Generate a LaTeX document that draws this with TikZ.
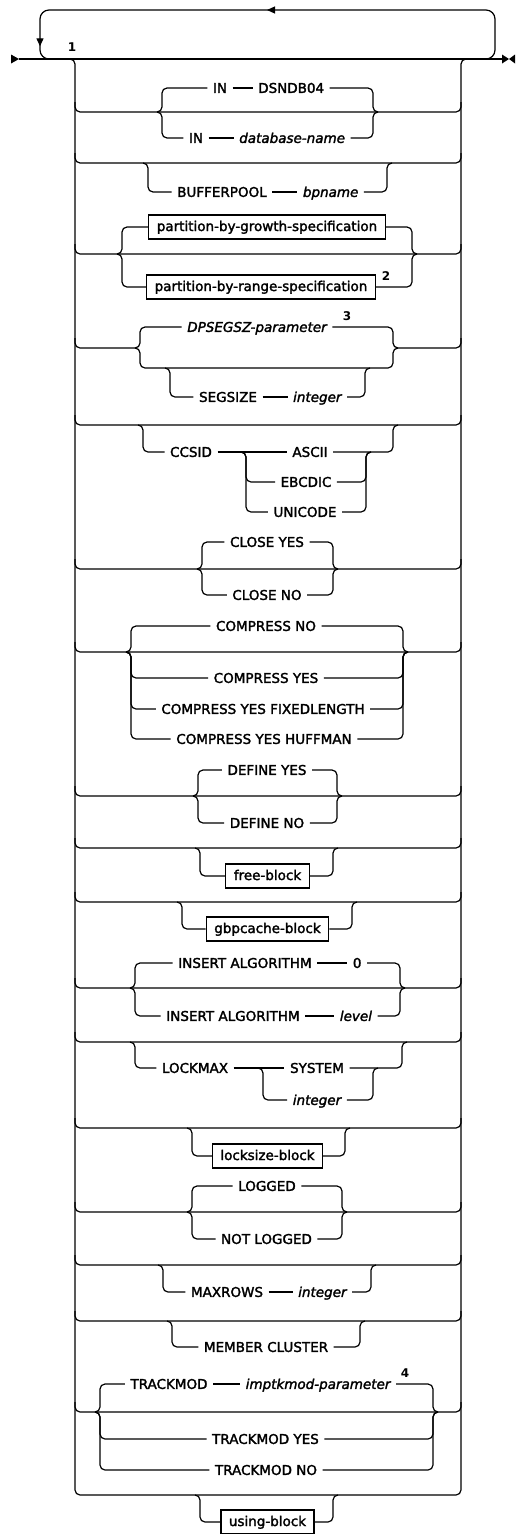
\documentclass[tikz,border=0pt]{standalone}
\usepackage{fontspec}
\setmainfont{DejaVu Sans}
\newfontfamily\railfont{DejaVu Sans}[FakeBold=2]
\usetikzlibrary{positioning}
\usetikzlibrary{arrows.meta}
\usetikzlibrary{decorations.markings}

% optional path hanging off a rail: first node, last node, left x, right x, rail y
\newcommand{\railopt}[5]{%
  \draw[rail] (#3-5,#5) -- (#3,#5) |- (#1);
  \draw[rail] (#2) -| (#4,#5) -- (#4+5,#5);}

\begin{document}
\begin{tikzpicture}[x=1pt,y=-1pt,line width=1.2pt,
    rail/.style={rounded corners=5pt},
    kw/.style={inner xsep=5pt,inner ysep=0pt,text height=9.8pt,text depth=0pt,font=\railfont\fontsize{13.5}{16}\selectfont},
    var/.style={kw,font=\railfont\fontsize{13.5}{16}\selectfont\itshape},
    blk/.style={draw,inner xsep=8pt,inner ysep=5pt,text height=11pt,text depth=3pt,font=\railfont\fontsize{13.5}{16}\selectfont},
    fn/.style={inner sep=0pt,font=\fontsize{12}{12}\selectfont\bfseries},
    decoration={markings,
    mark=at position 0.5 with {\arrow{Triangle[length=8pt,width=7pt]}},
    mark=at position 0.95 with {\arrow{Triangle[length=8pt,width=7pt]}}},
    ]
\useasboundingbox (0,0) rectangle (515,1534);

% main line, repeat loop
\coordinate (start) at (19,59);
\coordinate (stop) at (505,59);
\draw (start) -- (stop);
\fill (11,54.5) -- (start) -- (11,63.5) -- cycle;
\fill (502,54.5) -- (509,59) -- (502,63.5) -- cycle;
\fill (515,54.5) -- (509,59) -- (515,63.5) -- cycle;
\draw[rail,rounded corners=9pt,postaction={decorate}] (476,59) -- (495,59) -- (495,10) -- (40,10) -- (40,59) -- (60,59);
\node[fn] (fn1) at (72,47) {1};

% stack of choices
\draw[rail] (62,59) -- (75,59) -- (75,1495) -- (461,1495) -- (461,59) -- (474,59);
\foreach \y in {112,163,254,425,569,652,796,848,902,988,1042,1128,1212,1265,1321,1412}
  \draw[rail] (75,\y-10) -- (75,\y) -- (461,\y) -- (461,\y-10);
\draw[rail] (75,338) -- (75,348) -- (135,348);
\draw[rail] (398,348) -- (461,348) -- (461,338);

% IN
\node[kw] (in1) at (220,88) {IN};
\node[kw,right=20pt of in1] (dsn) {DSNDB04};
\node[kw] (in2) at (196,138) {IN};
\node[var,right=25pt of in2] (dbname) {database-name};
\draw (in1) -- (dsn);
\draw (in2) -- (dbname);
\railopt{in1}{dsn}{162}{373}{112}
\railopt{in2}{dbname}{162}{373}{112}

% BUFFERPOOL
\node[kw] (bp) at (222,192) {BUFFERPOOL};
\node[var,right=25pt of bp] (bpname) {bpname};
\draw (bp) -- (bpname);
\railopt{bp}{bpname}{148}{387}{163}

% partitions
\node[blk] (pgrowth) at (267,227) {partition-by-growth-specification};
\node[blk] (prange) at (261,287) {partition-by-range-specification};
\node[fn] (fn2) at (386,276) {2};
\railopt{pgrowth}{pgrowth}{122}{412}{254}
\railopt{prange}{prange}{122}{412}{254}

% DPSEGSZ / SEGSIZE
\node[var] (dpseg) at (257,327) {DPSEGSZ-parameter};
\node[fn] (fn3) at (347,316) {3};
\railopt{dpseg}{dpseg}{140}{393}{348}
\draw[rail] (135,348) -- (140,348) -- (140,368) -- (393,368) -- (393,348) -- (398,348);
\node[kw] (segsize) at (228,397) {SEGSIZE};
\node[var,right=25pt of segsize] (segint) {integer};
\draw (segsize) -- (segint);
\railopt{segsize}{segint}{170}{365}{368}

% CCSID
\node[kw] (ccsid) at (191,452) {CCSID};
\node[kw] (ascii) at (310,452) {ASCII};
\node[kw] (ebcdic) at (306,482) {EBCDIC};
\node[kw] (unicode) at (305,512) {UNICODE};
\draw (ccsid) -- (ascii);
\railopt{ccsid}{ascii}{143}{393}{425}
\railopt{ebcdic}{ebcdic}{246}{366}{452}
\railopt{unicode}{unicode}{246}{366}{452}

% CLOSE
\node[kw] (closey) at (267,542) {CLOSE YES};
\node[kw] (closen) at (267,595) {CLOSE NO};
\railopt{closey}{closey}{202}{333}{569}
\railopt{closen}{closen}{202}{333}{569}

% COMPRESS
\node[kw] (cno) at (266,626) {COMPRESS NO};
\node[kw] (cyes) at (266,678) {COMPRESS YES};
\node[kw] (cfix) at (263,709) {COMPRESS YES FIXEDLENGTH};
\node[kw] (chuff) at (264,739) {COMPRESS YES HUFFMAN};
\railopt{cno}{cno}{131}{403}{652}
\railopt{cyes}{cyes}{131}{403}{652}
\railopt{cfix}{cfix}{131}{403}{652}
\railopt{chuff}{chuff}{131}{403}{652}

% DEFINE
\node[kw] (dyes) at (267,770) {DEFINE YES};
\node[kw] (dno) at (267,823) {DEFINE NO};
\railopt{dyes}{dyes}{198}{337}{796}
\railopt{dno}{dno}{198}{337}{796}

% free-block, gbpcache-block
\node[blk] (free) at (267.5,876) {free-block};
\railopt{free}{free}{200}{333}{848}
\node[blk] (gbp) at (267.5,929) {gbpcache-block};
\railopt{gbp}{gbp}{182}{352}{902}

% INSERT ALGORITHM
\node[kw] (ins1) at (245,963) {INSERT ALGORITHM};
\node[kw,right=30pt of ins1] (zero) {0};
\node[kw] (ins2) at (233,1016) {INSERT ALGORITHM};
\node[var,right=29pt of ins2] (level) {level};
\draw (ins1) -- (zero);
\draw (ins2) -- (level);
\railopt{ins1}{zero}{135}{400}{988}
\railopt{ins2}{level}{135}{400}{988}

% LOCKMAX
\node[kw] (lockmax) at (195,1068) {LOCKMAX};
\node[kw] (system) at (317,1068) {SYSTEM};
\node[var] (lint) at (317,1100) {integer};
\draw (lockmax) -- (system);
\railopt{lockmax}{system}{135}{402}{1042}
\railopt{lint}{lint}{263}{373}{1068}

% locksize-block
\node[blk] (locksize) at (267.5,1156) {locksize-block};
\railopt{locksize}{locksize}{192}{345}{1128}

% LOGGED
\node[kw] (logged) at (267,1186) {LOGGED};
\node[kw] (notlogged) at (266.5,1239) {NOT LOGGED};
\railopt{logged}{logged}{192}{342}{1212}
\railopt{notlogged}{notlogged}{192}{342}{1212}

% MAXROWS
\node[kw] (maxrows) at (227,1292) {MAXROWS};
\node[var,right=24pt of maxrows] (maxint) {integer};
\draw (maxrows) -- (maxint);
\railopt{maxrows}{maxint}{163}{371}{1265}

% MEMBER CLUSTER
\node[kw] (member) at (266,1347) {MEMBER CLUSTER};
\railopt{member}{member}{172}{360}{1321}

% TRACKMOD
\node[kw] (tm) at (169,1384) {TRACKMOD};
\node[var,right=27pt of tm] (imptk) {imptkmod-parameter};
\node[fn] (fn4) at (405,1373) {4};
\node[kw] (tmyes) at (265.5,1439) {TRACKMOD YES};
\node[kw] (tmno) at (266,1470) {TRACKMOD NO};
\draw (tm) -- (imptk);
\railopt{tm}{imptk}{100}{433}{1412}
\railopt{tmyes}{tmyes}{100}{433}{1412}
\railopt{tmno}{tmno}{100}{433}{1412}

% using-block
\node[blk] (using) at (267.5,1522) {using-block};
\railopt{using}{using}{200}{333}{1495}
\end{tikzpicture}
\end{document}
